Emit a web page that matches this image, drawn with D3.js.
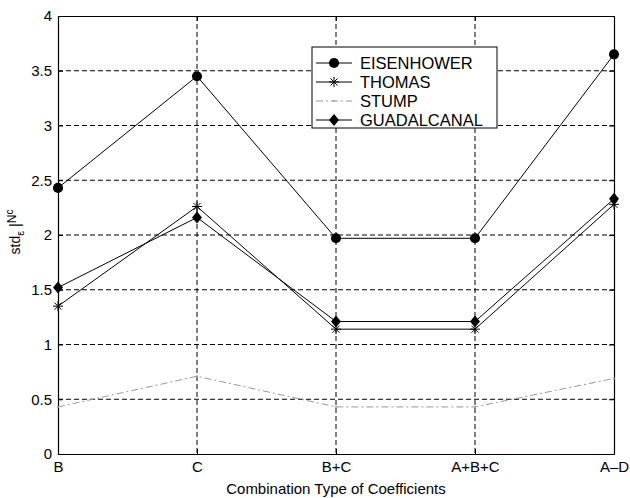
<!DOCTYPE html>
<html>
<head>
<meta charset="utf-8">
<script src="https://cdn.jsdelivr.net/npm/d3@7"></script>
<style>
  body { margin: 0; background: #fff; }
  svg { font-family: "Liberation Sans", Arial, sans-serif; }
  .axis path { stroke: #000; }
  .axis line { stroke: #000; }
  .axis text { font-size: 15px; fill: #000; }
</style>
</head>
<body>
<script>
// chart data
var categories = ["B", "C", "B+C", "A+B+C", "A\u2013D"];
var seriesNames = ["EISENHOWER", "THOMAS", "STUMP", "GUADALCANAL"];
var eisenhower = [2.43, 3.45, 1.97, 1.97, 3.65];
var thomas = [1.35, 2.26, 1.14, 1.14, 2.28];
var stump = [0.43, 0.71, 0.43, 0.43, 0.69];
var guadalcanal = [1.52, 2.16, 1.21, 1.21, 2.33];
var yTicks = [0, 0.5, 1, 1.5, 2, 2.5, 3, 3.5, 4];

// svg area
var svgWidth = 630;
var svgHeight = 498;
var chartMargin = { top: 16, right: 16, bottom: 44, left: 58 };
var chartWidth = svgWidth - chartMargin.left - chartMargin.right;
var chartHeight = svgHeight - chartMargin.top - chartMargin.bottom;

var svg = d3.select("body")
  .append("svg")
  .attr("width", svgWidth)
  .attr("height", svgHeight);

var chartGroup = svg.append("g")
  .attr("transform", `translate(${chartMargin.left}, ${chartMargin.top})`);

var xScale = d3.scalePoint()
  .domain(categories)
  .range([0, chartWidth]);

var yScale = d3.scaleLinear()
  .domain([0, 4])
  .range([chartHeight, 0]);

// dashed grid
chartGroup.append("g")
  .selectAll("line")
  .data(yTicks.slice(1, -1))
  .enter().append("line")
  .attr("x1", 0).attr("x2", chartWidth)
  .attr("y1", d => yScale(d)).attr("y2", d => yScale(d))
  .attr("stroke", "#000").attr("stroke-width", 1)
  .attr("stroke-dasharray", "5,3");

chartGroup.append("g")
  .selectAll("line")
  .data(categories.slice(1, -1))
  .enter().append("line")
  .attr("x1", d => xScale(d)).attr("x2", d => xScale(d))
  .attr("y1", 0).attr("y2", chartHeight)
  .attr("stroke", "#000").attr("stroke-width", 1)
  .attr("stroke-dasharray", "5,3");

// axes, ticks pointing inside like matlab
var leftAxis = d3.axisLeft(yScale).tickValues(yTicks).tickSizeInner(-5).tickSizeOuter(0).tickPadding(6)
  .tickFormat(d3.format("~g"));
var bottomAxis = d3.axisBottom(xScale).tickSizeInner(-5).tickSizeOuter(0).tickPadding(7);
var rightAxis = d3.axisRight(yScale).tickValues(yTicks).tickSizeInner(-5).tickSizeOuter(0).tickFormat("");
var topAxis = d3.axisTop(xScale).tickSizeInner(-5).tickSizeOuter(0).tickFormat("");

chartGroup.append("g").attr("class", "axis").call(leftAxis);
chartGroup.append("g").attr("class", "axis")
  .attr("transform", `translate(0, ${chartHeight})`)
  .call(bottomAxis);
chartGroup.append("g").attr("class", "axis")
  .attr("transform", `translate(${chartWidth}, 0)`)
  .call(rightAxis);
chartGroup.append("g").attr("class", "axis").call(topAxis);

chartGroup.selectAll(".axis .domain").attr("stroke-width", 1.2);

// series lines
var allSeries = [
  { name: seriesNames[0], values: eisenhower, color: "#000", dash: null, marker: "circle" },
  { name: seriesNames[1], values: thomas, color: "#000", dash: null, marker: "star" },
  { name: seriesNames[2], values: stump, color: "#999", dash: "7,3,2,3", marker: "dot" },
  { name: seriesNames[3], values: guadalcanal, color: "#000", dash: null, marker: "diamond" }
];

var drawLine = d3.line()
  .x((d, i) => xScale(categories[i]))
  .y(d => yScale(d));

function drawMarker(g, type, color) {
  if (type === "circle") {
    g.append("path").attr("d", d3.symbol(d3.symbolCircle, 80)()).attr("fill", color);
  } else if (type === "diamond") {
    g.append("path").attr("d", "M0,-6L5,0L0,6L-5,0Z").attr("fill", color);
  } else if (type === "star") {
    g.append("path").attr("d", "M-5,0H5M0,-5V5M-3.5,-3.5L3.5,3.5M-3.5,3.5L3.5,-3.5")
      .attr("fill", "none").attr("stroke", color).attr("stroke-width", 1);
  } else if (type === "dot") {
    g.append("circle").attr("r", 1).attr("fill", color);
  }
}

allSeries.forEach(function(s) {
  chartGroup.append("path")
    .attr("d", drawLine(s.values))
    .attr("fill", "none")
    .attr("stroke", s.color)
    .attr("stroke-width", 1)
    .attr("stroke-dasharray", s.dash);

  s.values.forEach(function(v, i) {
    var g = chartGroup.append("g")
      .attr("transform", `translate(${xScale(categories[i])}, ${yScale(v)})`);
    drawMarker(g, s.marker, s.color);
  });
});

// legend
var legend = chartGroup.append("g").attr("transform", "translate(254, 31)");
legend.append("rect")
  .attr("width", 185).attr("height", 81)
  .attr("fill", "#fff").attr("stroke", "#000").attr("stroke-width", 1);

allSeries.forEach(function(s, i) {
  var row = legend.append("g").attr("transform", `translate(0, ${16 + i * 19})`);
  row.append("line")
    .attr("x1", 4).attr("x2", 40)
    .attr("stroke", s.color).attr("stroke-width", 1)
    .attr("stroke-dasharray", s.dash);
  drawMarker(row.append("g").attr("transform", "translate(22, 0)"), s.marker, s.color);
  row.append("text")
    .attr("x", 48).attr("y", 6)
    .attr("font-size", "16.5px")
    .text(s.name);
});

// axis labels
svg.append("text")
  .attr("x", chartMargin.left + chartWidth / 2)
  .attr("y", 494)
  .attr("text-anchor", "middle")
  .attr("font-size", "15px")
  .text("Combination Type of Coefficients");

var yLabel = svg.append("text")
  .attr("transform", "translate(20, 232) rotate(-90)")
  .attr("text-anchor", "middle")
  .attr("font-size", "14px");
yLabel.append("tspan").text("std");
yLabel.append("tspan").attr("dy", 4).attr("font-size", "11px").text("\u03b5");
yLabel.append("tspan").attr("dy", -4).text(" |");
yLabel.append("tspan").attr("dy", -4).attr("font-size", "12px").text("N");
yLabel.append("tspan").attr("dy", -3).attr("font-size", "10px").text("c");
</script>
</body>
</html>
